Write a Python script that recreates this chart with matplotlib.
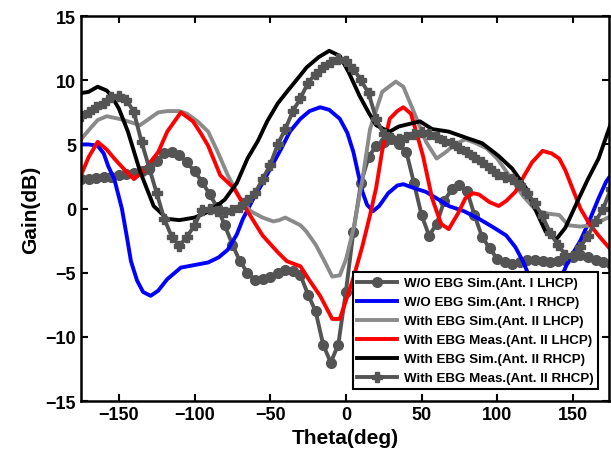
import numpy as np
import matplotlib
matplotlib.use("Agg")
import matplotlib.pyplot as plt

plt.rcParams['font.family'] = ['Liberation Sans', 'DejaVu Sans']
plt.rcParams['font.weight'] = 'bold'

# W/O EBG Sim.(Ant. I LHCP) - dark gray circles
th_c = np.arange(-175, 180, 5)
g_c = [2.3, 2.3, 2.4, 2.5, 2.5, 2.6, 2.7, 2.8, 2.9, 3.1,
       3.7, 4.3, 4.4, 4.2, 3.6, 2.9, 2.1, 1.1, 0.1, -1.3,
       -2.8, -4.1, -5.0, -5.6, -5.5, -5.3, -5.0, -4.8, -4.9, -5.2,
       -6.7, -8.0, -10.6, -12.0, -10.6, -6.5, -1.8, 2.0, 4.0, 4.9,
       5.2, 5.4, 5.0, 4.4, 2.0, -0.5, -2.1, -1.2, 0.6, 1.5,
       1.8, 1.4, -0.5, -2.2, -3.1, -3.9, -4.2, -4.3, -4.2, -4.0,
       -4.0, -4.1, -4.2, -4.1, -4.0, -3.8, -3.6, -3.8, -4.0, -4.2,
       -4.3]

# W/O EBG Sim.(Ant. I RHCP) - blue
th_b = [-175, -170, -164, -160, -157, -153, -148, -145, -142, -138, -134, -129,
        -124, -118, -109, -100, -91, -84, -78, -72, -68, -61, -55, -50, -43,
        -37, -30, -24, -17, -11, -4, 1, 5, 8, 11, 14, 18, 22, 28, 34, 38, 45,
        53, 60, 68, 78, 88, 98, 106, 112, 117, 122, 130, 138, 147, 155, 160,
        167, 172, 175]
g_b = [5.0, 5.0, 4.9, 4.3, 3.3, 2.3, 0.0, -2.0, -4.1, -5.6, -6.5, -6.8,
       -6.4, -5.5, -4.6, -4.4, -4.2, -3.8, -3.2, -2.0, -0.8, 0.8, 2.0, 3.1, 4.6,
       6.0, 7.0, 7.6, 7.9, 7.7, 7.0, 5.9, 4.4, 2.8, 1.3, 0.3, -0.2, 0.2, 1.2,
       1.8, 1.9, 1.6, 1.3, 0.8, 0.2, -0.2, -0.8, -1.5, -2.1, -3.0, -4.1, -5.5,
       -7.0, -6.5, -4.1, -2.5, -1.2, 0.8, 2.1, 2.6]

# With EBG Sim.(Ant. II LHCP) - light gray
th_lg = [-175, -170, -164, -158, -150, -144, -136, -130, -124, -118, -110, -105,
         -98, -91, -85, -78, -70, -63, -55, -48, -44, -40, -35, -30, -26, -20,
         -15, -9, -4, 0, 5, 11, 16, 24, 33, 38, 44, 53, 60, 66, 72, 79, 86, 93,
         100, 106, 117, 126, 134, 141, 147, 155, 163, 168, 175]
g_lg = [5.4, 6.1, 6.9, 7.2, 7.0, 6.8, 6.5, 7.0, 7.5, 7.6, 7.6, 7.4,
        6.8, 6.0, 4.5, 2.6, 0.8, -0.2, -0.7, -1.0, -0.9, -0.7, -1.0, -1.3, -1.8,
        -2.8, -3.9, -5.3, -5.2, -4.0, -1.6, 2.3, 6.2, 9.1, 9.9, 9.5, 7.8, 5.2,
        3.9, 4.4, 5.0, 5.4, 5.1, 4.7, 3.9, 2.9, 1.0, -0.2, -0.4, -0.5, -1.3,
        -1.4, -1.3, -1.0, -0.6]

# With EBG Meas.(Ant. II LHCP) - red
th_r = [-175, -170, -164, -158, -153, -146, -140, -134, -128, -124, -118, -109,
        -101, -96, -91, -83, -74, -65, -55, -45, -39, -30, -24, -17, -9, -4, 0,
        5, 11, 16, 20, 24, 29, 34, 38, 43, 46, 51, 57, 63, 68, 74, 79, 84, 88,
        95, 101, 106, 112, 118, 123, 130, 136, 141, 145, 149, 155, 161, 167, 175]
g_r = [2.6, 4.0, 5.2, 4.6, 3.9, 3.0, 2.3, 2.9, 3.8, 4.4, 6.0, 7.5,
       6.8, 5.9, 4.9, 2.6, 1.6, -0.2, -2.1, -3.4, -4.1, -4.5, -5.6, -6.8, -8.6,
       -8.6, -7.2, -5.4, -2.9, -0.5, 1.6, 4.5, 7.0, 7.6, 7.9, 7.4, 6.2, 4.1,
       0.8, -1.2, -1.6, -0.4, 0.8, 1.2, 1.1, 0.5, 0.2, 0.6, 1.3, 2.6, 3.6, 4.5,
       4.3, 3.9, 3.0, 1.8, 0.0, -1.2, -2.1, -3.2]

# With EBG Sim.(Ant. II RHCP) - black
th_k = [-175, -170, -164, -158, -155, -150, -144, -136, -127, -118, -110, -100,
        -90, -80, -72, -65, -58, -52, -45, -39, -30, -26, -18, -11, -4, 2, 9,
        15, 20, 25, 29, 35, 42, 49, 57, 68, 80, 90, 101, 110, 119, 123, 132,
        139, 145, 154, 160, 167, 175]
g_k = [9.0, 9.1, 9.5, 9.2, 8.8, 7.8, 6.0, 2.9, 0.2, -0.8, -0.9, -0.7,
       -0.2, 0.7, 2.0, 3.9, 5.3, 6.8, 8.2, 9.1, 10.4, 11.0, 11.8, 12.3, 11.9,
       10.6, 8.8, 7.5, 6.5, 6.2, 6.0, 6.4, 6.6, 6.8, 6.2, 6.0, 5.5, 5.1, 4.1,
       3.1, 1.6, 0.5, -1.8, -2.4, -1.5, 0.8, 2.3, 3.9, 6.6]

# With EBG Meas.(Ant. II RHCP) - dark gray crosses
th_x = np.arange(-175, 180, 5)
g_x = [7.2, 7.5, 7.9, 8.2, 8.7, 8.8, 8.5, 7.5, 5.2, 3.2,
       1.2, -0.8, -2.2, -2.9, -2.2, -1.3, -0.1, 0.0, -0.2, -0.3,
       -0.1, 0.1, 0.7, 1.2, 2.3, 3.4, 5.0, 6.2, 7.6, 8.6,
       9.8, 10.5, 11.0, 11.4, 11.7, 11.5, 10.9, 10.0, 9.0, 7.0,
       5.8, 5.5, 5.4, 5.6, 5.8, 6.0, 5.8, 5.6, 5.3, 5.1,
       4.7, 4.4, 4.0, 3.6, 3.2, 2.7, 2.5, 2.3, 1.8, 1.2,
       0.4, -0.6, -1.9, -2.8, -3.6, -3.7, -3.0, -2.1, -1.0, 0.0,
       1.5]

labels = ['W/O EBG Sim.(Ant. I LHCP)', 'W/O EBG Sim.(Ant. I RHCP)',
          'With EBG Sim.(Ant. II LHCP)', 'With EBG Meas.(Ant. II LHCP)',
          'With EBG Sim.(Ant. II RHCP)', 'With EBG Meas.(Ant. II RHCP)']

fig = plt.figure(figsize=(6.11, 4.64), dpi=100)
ax = fig.add_axes([0.1326, 0.1336, 0.8644, 0.8294])

lw = 2.8
ax.plot(th_c, g_c, color='#545454', lw=lw, marker='o', ms=7, label=labels[0])
ax.plot(th_b, g_b, color='#0000ff', lw=lw, label=labels[1])
ax.plot(th_lg, g_lg, color='#8a8a8a', lw=lw, label=labels[2])
ax.plot(th_r, g_r, color='#ff0000', lw=lw, label=labels[3])
ax.plot(th_k, g_k, color='black', lw=lw, label=labels[4])
ax.plot(th_x, g_x, color='#545454', lw=lw, marker='P', ms=7, label=labels[5])

ax.set_xlim(-175, 174)
ax.set_ylim(-15, 15)
ax.set_xticks([-150, -100, -50, 0, 50, 100, 150])
ax.set_yticks([-15, -10, -5, 0, 5, 10, 15])
ax.tick_params(direction='in', top=True, right=True, labelsize=13, width=1.5, length=5)
for s in ax.spines.values():
    s.set_linewidth(1.8)
ax.set_xlabel('Theta(deg)', fontsize=15, fontweight='bold')
ax.set_ylabel('Gain(dB)', fontsize=15, fontweight='bold')

leg = ax.legend(loc='lower right', bbox_to_anchor=(0.992, 0.014), fontsize=9.6,
                handlelength=3.0, fancybox=False, framealpha=1, edgecolor='black',
                borderpad=0.35, labelspacing=0.5, handletextpad=0.5)
leg.get_frame().set_linewidth(1.5)

plt.savefig('out.png', dpi=100)
